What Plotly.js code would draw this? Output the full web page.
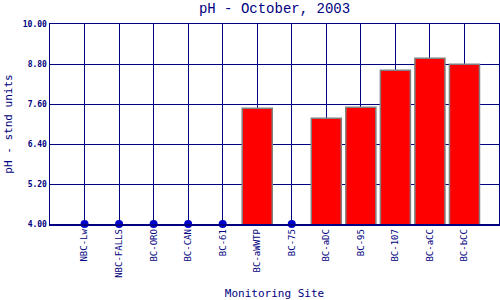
<!DOCTYPE html>
<html><head><meta charset="utf-8">
<script src="https://cdn.plot.ly/plotly-3.0.1.min.js"></script>
<style>html,body{margin:0;padding:0;background:#fff}#c{width:500px;height:300px}</style>
</head><body><div id="c"></div>
<script>
const sites = ["NBC-Lw","NBC-FALLS","BC-ORO","BC-CAN","BC-61","BC-aWWTP","BC-75","BC-aDC","BC-95","BC-107","BC-aCC","BC-bCC"];
const barSites = ["BC-aWWTP","BC-aDC","BC-95","BC-107","BC-aCC","BC-bCC"];
const barValues = [7.47, 7.17, 7.50, 8.61, 8.97, 8.79];
const dotSites = ["NBC-Lw","NBC-FALLS","BC-ORO","BC-CAN","BC-61","BC-75"];
const dotValues = [4.0, 4.0, 4.0, 4.0, 4.0, 4.0];
const yTicks = [4.0, 5.2, 6.4, 7.6, 8.8, 10.0];

const navy = "#000080";
const mono = "DejaVu Sans Mono, Liberation Mono, monospace";
const data = [
  {type:"bar", x:barSites, y:barValues, base:0, width:0.87,
   marker:{color:"#ff0000", line:{color:"#808080", width:1.5}}, hoverinfo:"none"},
  {type:"scatter", mode:"markers", x:dotSites, y:dotValues, cliponaxis:false,
   marker:{color:"#0000cc", size:8}, hoverinfo:"none"}
];
const layout = {
  width:500, height:300, showlegend:false,
  margin:{l:50, r:1, t:24, b:76},
  paper_bgcolor:"#fff", plot_bgcolor:"#fff",
  title:{text:"pH - October, 2003", x:0.549, xanchor:"center", y:0.99, yanchor:"top",
         font:{family:"Liberation Mono, monospace", size:14, color:navy, weight:"normal"}},
  xaxis:{type:"category", categoryorder:"array", categoryarray:sites, range:[-1,12],
         showgrid:true, gridcolor:navy, gridwidth:1, showline:true, mirror:true, linecolor:navy, linewidth:1.5,
         ticks:"", tickangle:-90, tickfont:{family:mono, size:9, color:navy}, zeroline:false,
         title:{text:"Monitoring Site", font:{family:mono, size:11, color:navy}, standoff:14}},
  yaxis:{range:[4,10], tickvals:yTicks, ticktext:yTicks.map(v=>"<b>"+v.toFixed(2)+"</b>"),
         showgrid:true, gridcolor:navy, gridwidth:1, showline:true, mirror:true, linecolor:navy, linewidth:1.5,
         ticks:"", tickfont:{family:mono, size:8, color:navy}, zeroline:false,
         title:{text:"pH - stnd units", font:{family:mono, size:11, color:navy}, standoff:8}},
  bargap:0.13
};
Plotly.newPlot("c", data, layout, {displayModeBar:false, staticPlot:true});
</script></body></html>
